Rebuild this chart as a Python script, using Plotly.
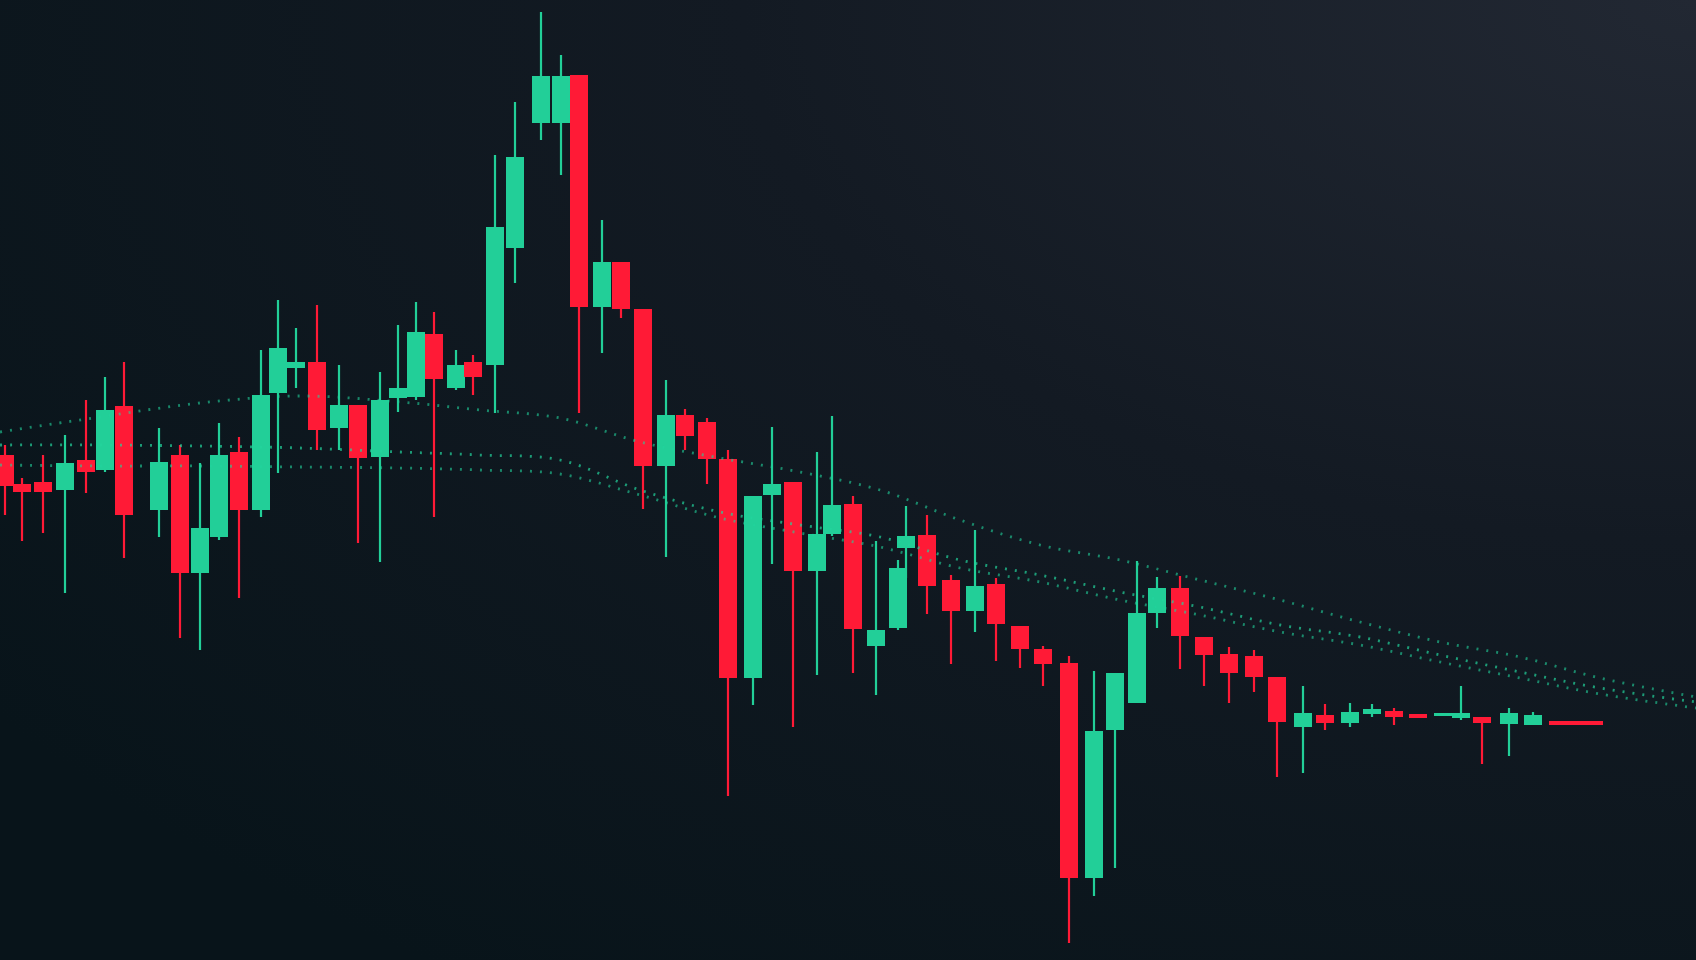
import base64
import numpy as np
import plotly.graph_objects as go

# ---- data (price units) ----
x_pos = [5, 22, 43, 65, 86, 105, 124, 159, 180, 200, 219, 239, 261, 278, 296, 317, 339, 358, 380, 398,
         416, 434, 456, 473, 495, 515, 541, 561, 579, 602, 621, 643, 666, 685, 707, 728, 753, 772, 793, 817,
         832, 853, 876, 898, 906, 927, 951, 975, 996, 1020, 1043, 1069, 1094, 1115, 1137, 1157, 1180, 1204, 1229, 1254,
         1277, 1303, 1325, 1350, 1372, 1394, 1418, 1443, 1461, 1482, 1509, 1533, 1558, 1576, 1594]
open_ = [505, 476, 478, 470, 500, 490, 554, 450, 505, 387, 423, 508, 450, 567, 592, 598, 532, 555, 503, 562,
         563, 626, 572, 598, 595, 712, 837, 837, 885, 653, 698, 651, 494, 545, 538, 501, 282, 465, 478, 389,
         426, 456, 314, 332, 412, 425, 380, 349, 376, 334, 311, 297, 82, 230, 257, 347, 372, 323, 306, 304,
         283, 233, 245, 237, 246, 249, 246, 244, 242, 243, 236, 235, 239, 239, 239]
high = [515, 482, 505, 525, 560, 583, 598, 532, 515, 497, 537, 523, 610, 660, 632, 655, 595, 555, 588, 635,
        658, 648, 610, 605, 805, 858, 948, 905, 885, 740, 698, 651, 580, 551, 542, 510, 464, 533, 478, 508,
        544, 464, 419, 400, 454, 445, 385, 430, 382, 334, 314, 304, 289, 287, 399, 383, 384, 323, 313, 310,
        283, 274, 256, 257, 256, 252, 246, 246, 274, 243, 252, 248, 239, 239, 239]
low = [445, 419, 427, 367, 467, 488, 402, 423, 322, 310, 420, 362, 443, 487, 572, 510, 510, 417, 398, 548,
       560, 443, 570, 565, 547, 677, 820, 785, 547, 607, 642, 451, 403, 510, 476, 164, 255, 396, 233, 285,
       424, 287, 265, 330, 382, 346, 296, 328, 299, 292, 274, 17, 64, 92, 257, 332, 291, 274, 257, 268,
       183, 187, 230, 233, 243, 235, 242, 244, 240, 196, 204, 235, 235, 235, 235]
close = [474, 468, 468, 497, 488, 550, 445, 498, 387, 432, 505, 450, 565, 612, 598, 530, 555, 502, 560, 572,
         628, 581, 595, 583, 733, 803, 884, 884, 653, 698, 651, 494, 545, 524, 501, 282, 464, 476, 389, 426,
         455, 331, 330, 392, 424, 374, 349, 374, 336, 311, 296, 82, 229, 287, 347, 372, 324, 305, 287, 283,
         238, 247, 237, 248, 251, 243, 242, 246, 247, 237, 247, 245, 235, 235, 235]

ma_x = [0, 100, 200, 300, 400, 480, 560, 640, 720, 800, 880, 960, 1040, 1120, 1200, 1280, 1360, 1440, 1520, 1600, 1696]
ma_slow = [528, 543, 557, 564, 558, 550, 542, 518, 502, 488, 470, 440, 415, 400, 380, 360, 338, 318, 303, 282, 263]
ma_mid = [515, 515, 514, 512, 508, 505, 500, 470, 448, 435, 423, 400, 385, 368, 353, 335, 323, 305, 288, 272, 258]
ma_fast = [495, 494, 494, 493, 492, 490, 486, 465, 442, 427, 413, 392, 378, 360, 345, 328, 315, 298, 282, 266, 252]

# ---- style ----
RED = "#ff1a36"
GREEN = "#22cf98"
BODY_W = 18
WICK_W = 2.2

o = np.array(open_, float)
c = np.array(close, float)
h = np.array(high, float)
l = np.array(low, float)
xs = np.array(x_pos, float)
up = c >= o

fig = go.Figure()

for vals, alpha in ((ma_slow, 0.6), (ma_mid, 0.7), (ma_fast, 0.6)):
    fig.add_trace(go.Scatter(x=ma_x, y=vals, mode="lines", line_shape="spline",
                             line=dict(color=f"rgba(34,212,156,{alpha})", width=2.8, dash="2px,8px"),
                             hoverinfo="skip"))

for mask, col in ((up, GREEN), (~up, RED)):
    fig.add_trace(go.Bar(x=xs[mask], base=l[mask], y=(h - l)[mask], width=WICK_W,
                         marker=dict(color=col, line=dict(width=0)), hoverinfo="skip"))

for mask, col in ((up, GREEN), (~up, RED)):
    bot = np.minimum(o, c)[mask]
    ht = np.maximum(np.abs(c - o)[mask], 3)
    fig.add_trace(go.Bar(x=xs[mask], base=bot, y=ht, width=BODY_W,
                         marker=dict(color=col, line=dict(width=0)),
                         customdata=np.stack([o[mask], h[mask], l[mask], c[mask]], axis=1),
                         hovertemplate="O %{customdata[0]}<br>H %{customdata[1]}<br>L %{customdata[2]}<br>C %{customdata[3]}<extra></extra>"))

svg = ('<svg xmlns="http://www.w3.org/2000/svg" width="1696" height="960" viewBox="0 0 1696 960">'
       '<defs><radialGradient id="g" cx="1" cy="0" r="1.25" gradientUnits="objectBoundingBox">'
       '<stop offset="0" stop-color="#222833"/><stop offset="0.45" stop-color="#131a23"/>'
       '<stop offset="1" stop-color="#08141a"/></radialGradient></defs>'
       '<rect width="1696" height="960" fill="url(#g)"/></svg>')
src = "data:image/svg+xml;base64," + base64.b64encode(svg.encode()).decode()

fig.update_layout(
    width=1696, height=960,
    margin=dict(l=0, r=0, t=0, b=0),
    paper_bgcolor="#0e141c",
    plot_bgcolor="rgba(0,0,0,0)",
    barmode="overlay",
    showlegend=False,
    xaxis=dict(range=[0, 1696], visible=False, fixedrange=True),
    yaxis=dict(range=[0, 960], visible=False, fixedrange=True),
    images=[dict(source=src, xref="paper", yref="paper", x=0, y=1, sizex=1, sizey=1,
                 sizing="stretch", layer="below", xanchor="left", yanchor="top")],
)

fig.write_html("out.html", config={"displayModeBar": False},
               post_script="document.body.style.margin='0';document.body.style.background='#0e141c';"
                           "document.body.style.overflow='hidden';")
